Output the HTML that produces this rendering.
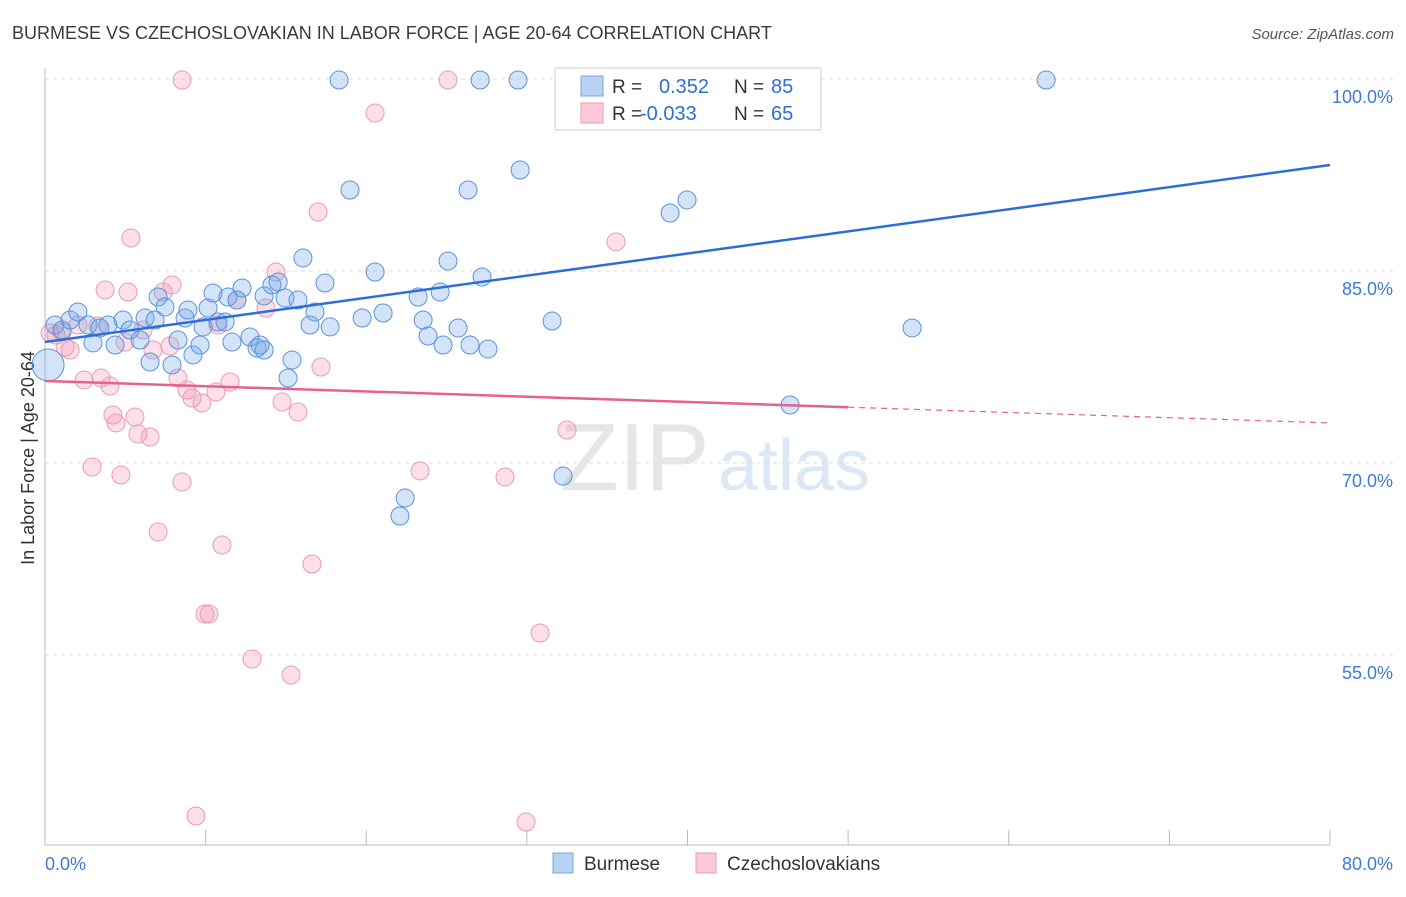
<!DOCTYPE html>
<html><head><meta charset="utf-8"><style>
body{margin:0;background:#fff;font-family:"Liberation Sans",sans-serif;}
svg text{font-family:"Liberation Sans",sans-serif;}
</style></head><body>
<svg id="chart" width="1406" height="892">
<text x="12" y="39" font-size="18" fill="#3a3a3a">BURMESE VS CZECHOSLOVAKIAN IN LABOR FORCE | AGE 20-64 CORRELATION CHART</text>
<text x="1394" y="39" font-size="15" fill="#555" font-style="italic" text-anchor="end">Source: ZipAtlas.com</text>
<text transform="translate(34,458) rotate(-90)" font-size="18" fill="#333" text-anchor="middle">In Labor Force | Age 20-64</text>
<text x="560" y="490" font-size="96" fill="#e6e6e6" font-family="Liberation Serif">ZIP</text>
<text x="718" y="490" font-size="72" fill="#dce8f6">atlas</text>
<g id="grid"></g><g id="pts"></g><g id="trend"></g>
<g>
<rect x="555" y="68" width="266" height="62" fill="#fff" stroke="#ccc"/>
<rect x="581" y="76" width="22" height="20" fill="#b8d2f4" stroke="#7aa6e6"/>
<rect x="581" y="103" width="22" height="20" fill="#fbc8d7" stroke="#ef9ab4"/>
<text x="612" y="93" font-size="19" fill="#333">R =</text><text x="659" y="93" font-size="20" fill="#2e6fd0">0.352</text>
<text x="734" y="93" font-size="19" fill="#333">N =</text><text x="771" y="93" font-size="20" fill="#2e6fd0">85</text>
<text x="612" y="120" font-size="19" fill="#333">R =</text><text x="640" y="120" font-size="20" fill="#2e6fd0">-0.033</text>
<text x="734" y="120" font-size="19" fill="#333">N =</text><text x="771" y="120" font-size="20" fill="#2e6fd0">65</text>
</g>
<g>
<rect x="553" y="853" width="20" height="20" fill="#b8d2f4" stroke="#7aa6e6"/>
<text x="584" y="870" font-size="19" fill="#333">Burmese</text>
<rect x="696" y="853" width="20" height="20" fill="#fbc8d7" stroke="#ef9ab4"/>
<text x="727" y="870" font-size="19" fill="#333">Czechoslovakians</text>
</g>
</svg>
<script>
const yTicks=[100,85,70,55];
const yTickLabels=["100.0%","85.0%","70.0%","55.0%"];
const xTicks=[0,10,20,30,40,50,60,70,80];
const burmeseX=[0.19,0.62,1.06,1.56,2.05,2.68,2.99,3.42,3.92,4.36,4.86,5.29,5.92,6.23,6.54,6.85,7.04,7.47,7.91,8.28,8.72,8.9,9.21,9.65,9.84,10.15,10.46,10.77,11.21,11.39,11.64,11.95,12.27,12.76,13.2,13.39,13.64,13.64,14.13,14.51,14.94,15.13,15.38,15.75,16.06,16.5,16.81,17.43,17.75,18.31,18.99,19.74,20.55,21.05,22.1,22.42,23.23,23.54,23.85,24.6,24.78,25.09,25.72,26.34,26.46,27.09,27.21,27.58,29.45,29.58,31.57,32.25,38.92,39.97,46.39,53.98,62.33];
const burmeseY=[77.66,80.78,80.39,81.17,81.8,80.78,79.38,80.55,80.78,79.22,81.17,80.39,79.61,81.33,77.89,81.17,82.97,82.19,77.66,79.61,81.33,81.95,78.44,79.22,80.63,82.11,83.28,81.02,81.02,82.97,79.45,82.73,83.67,79.84,78.98,79.22,78.83,83.05,83.91,84.14,82.89,76.64,78.05,82.73,86.02,80.78,81.8,84.06,80.63,99.92,91.33,81.33,84.92,81.72,65.86,67.27,82.97,81.17,79.92,83.36,79.22,85.78,80.55,91.33,79.22,99.92,84.53,78.91,99.92,92.89,81.09,68.98,89.53,90.55,74.53,80.55,99.92];
const czechX=[0.31,0.68,1.06,1.25,1.56,2.05,2.43,2.93,3.3,3.49,3.74,4.05,4.23,4.42,4.73,4.98,5.17,5.35,5.6,5.79,6.1,6.54,6.72,7.04,7.35,7.78,7.91,8.28,8.53,8.53,8.84,9.15,9.4,9.77,9.96,10.21,10.65,10.77,11.02,11.52,11.95,12.89,13.76,14.38,14.76,15.32,15.75,16.62,17.0,17.18,20.55,23.35,25.09,28.64,29.95,30.82,32.5,35.55];
const czechY=[80.16,80.0,80.23,79.06,78.83,80.78,76.48,69.69,80.7,76.64,83.52,76.02,73.75,73.13,69.06,79.45,83.36,87.58,73.59,72.27,80.39,72.03,78.83,64.61,83.36,79.14,83.91,76.64,99.92,68.52,75.7,75.08,42.42,74.69,58.2,58.2,75.55,80.78,63.59,76.33,82.73,54.69,82.11,84.92,74.77,53.44,73.98,62.11,89.61,77.5,97.34,69.38,99.92,68.91,41.95,56.72,72.58,87.27];
const burmeseTrend=[79.45,93.28];
const czechTrend=[76.41,73.13];
const X=v=>45+v*(1285/80);
const Y=v=>79+(100-v)*12.8;
const NS='http://www.w3.org/2000/svg';
function mk(tag,attrs,parent){const e=document.createElementNS(NS,tag);for(const k in attrs)e.setAttribute(k,attrs[k]);document.getElementById(parent).appendChild(e);return e;}
mk('line',{x1:45,y1:68,x2:45,y2:845,stroke:'#bbb'},'grid');
mk('line',{x1:45,y1:845,x2:1330,y2:845,stroke:'#bbb'},'grid');
yTicks.forEach((t,i)=>{
 const l=mk('line',{x1:45,y1:Y(t),x2:1393,y2:Y(t),stroke:'#ddd','stroke-dasharray':'4,4'},'grid');
 
 
 const tx=mk('text',{x:1393,y:Y(t)+24,'font-size':18,fill:'#3d7ad6','text-anchor':'end'},'grid');
 tx.textContent=yTickLabels[i];
 
 
});
xTicks.forEach(t=>{
 const l=mk('line',{x1:X(t),y1:830,x2:X(t),y2:845,stroke:'#bbb'},'grid');
 
 
});
[[0,'0.0%','start',45],[80,'80.0%','end',1393]].forEach(a=>{
 const tx=mk('text',{x:a[3],y:870,'font-size':18,fill:'#3d7ad6','text-anchor':a[2]},'grid');
 tx.textContent=a[1];
 
 
});
czechX.forEach((v,i)=>{
 const c=mk('circle',{cx:X(v),cy:Y(czechY[i]),r:9,fill:'rgba(244,150,180,0.3)',stroke:'#ec9ab3','stroke-width':1},'pts');
 
 
});
burmeseX.forEach((v,i)=>{
 const c=mk('circle',{cx:X(v),cy:Y(burmeseY[i]),r:i==0?16:9,fill:'rgba(110,165,235,0.3)',stroke:'#5b92dc','stroke-width':1},'pts');
 
 
});
const bt=mk('line',{x1:X(0),y1:Y(burmeseTrend[0]),x2:X(80),y2:Y(burmeseTrend[1]),stroke:'#2b6fd6','stroke-width':2.5},'trend');


const pm=czechTrend[0]+(czechTrend[1]-czechTrend[0])*50/80;
const pt=mk('line',{x1:X(0),y1:Y(czechTrend[0]),x2:X(50),y2:Y(pm),stroke:'#e8608c','stroke-width':2.5},'trend');


const pd=mk('line',{x1:X(50),y1:Y(pm),x2:X(80),y2:Y(czechTrend[1]),stroke:'#e8608c','stroke-width':1.2,'stroke-dasharray':'6,5'},'trend');


</script>
</body></html>
